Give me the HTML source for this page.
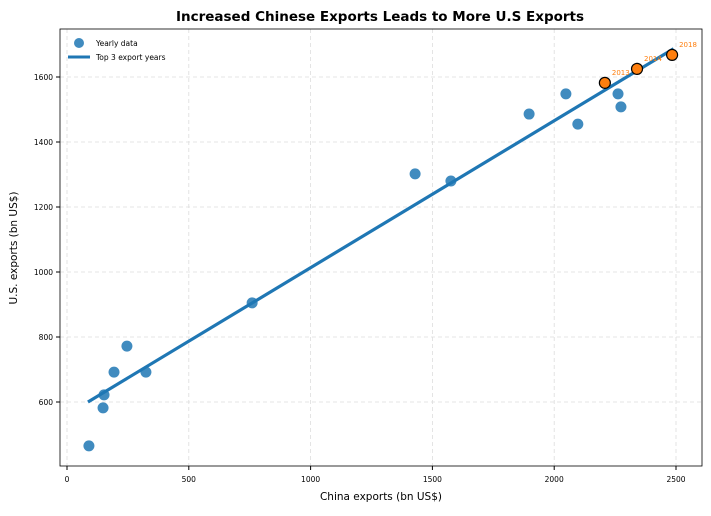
<!DOCTYPE html>
<html><head><meta charset="utf-8"><style>
body{margin:0;background:#fff;}
svg{font-family:"DejaVu Sans",sans-serif;}
</style></head><body>
<svg id="chart" width="711" height="511" xmlns="http://www.w3.org/2000/svg">
<rect width="711" height="511" fill="#fff"/>
<text x="380" y="21" text-anchor="middle" font-size="13.5" font-weight="bold">Increased Chinese Exports Leads to More U.S Exports</text>
<g id="grid"></g>
<g id="axes"></g>
<g id="marks"></g>
<rect x="60" y="29" width="642" height="437" fill="none" stroke="#000" stroke-width="0.8"/>
<text x="381" y="500" text-anchor="middle" font-size="10.5">China exports (bn US$)</text>
<text x="17" y="248" text-anchor="middle" font-size="10.5" transform="rotate(-90 17 248)">U.S. exports (bn US$)</text>
<g>
<circle cx="79" cy="43" r="5" fill="#1f77b4" fill-opacity="0.85"/>
<text x="96" y="46" font-size="7.5">Yearly data</text>
<line x1="68" y1="57" x2="90" y2="57" stroke="#1f77b4" stroke-width="3"/>
<text x="96" y="60" font-size="7.5">Top 3 export years</text>
</g>
</svg>
<script>
const chinaX=[90,148,152,193,246,324,760,1429,1576,1897,2048,2097,2262,2274];
const usY=[465,582,622,692,772,692,905,1302,1280,1486,1548,1455,1548,1508];
const topYears=["2013","2014","2018"];
const topX=[2208,2340,2484];
const topY=[1582,1625,1668];
const lineX=[86,2490];
const lineY=[600,1687];
const xTicks=[0,500,1000,1500,2000,2500];
const yTicks=[600,800,1000,1200,1400,1600];
const NS="http://www.w3.org/2000/svg";
const sx=v=>67+v*0.2436;
const sy=v=>402-(v-600)*0.325;
function mk(t,a,p){const e=document.createElementNS(NS,t);for(const k in a)e.setAttribute(k,a[k]);p.appendChild(e);return e;}
const grid=document.getElementById('grid'),axes=document.getElementById('axes'),marks=document.getElementById('marks');
xTicks.forEach(v=>{const x=sx(v);
let g=mk('line',{x1:x,x2:x,y1:29,y2:466,stroke:'#ddd','stroke-dasharray':'4,3','stroke-width':0.8},grid);

let t=mk('line',{x1:x,x2:x,y1:466,y2:470,stroke:'#000'},axes);

let l=mk('text',{x:x,y:482,'text-anchor':'middle','font-size':7.5},axes);l.textContent=v;
});
yTicks.forEach(v=>{const y=sy(v);
let g=mk('line',{x1:60,x2:702,y1:y,y2:y,stroke:'#ddd','stroke-dasharray':'4,3','stroke-width':0.8},grid);

let t=mk('line',{x1:56,x2:60,y1:y,y2:y,stroke:'#000'},axes);

let l=mk('text',{x:53,y:y+3,'text-anchor':'end','font-size':7.5},axes);l.textContent=v;
});
let ln=mk('line',{x1:sx(lineX[0]),y1:sy(lineY[0]),x2:sx(lineX[1]),y2:sy(lineY[1]),stroke:'#1f77b4','stroke-width':3.2},marks);

chinaX.forEach((v,i)=>{let c=mk('circle',{cx:sx(v),cy:sy(usY[i]),r:5.5,fill:'#1f77b4','fill-opacity':0.85},marks);
});
topX.forEach((v,i)=>{let c=mk('circle',{cx:sx(v),cy:sy(topY[i]),r:5.5,fill:'#ff7f0e',stroke:'#000','stroke-width':1.2},marks);

let t=mk('text',{x:sx(v)+7,y:sy(topY[i])-8,'font-size':7,fill:'#ff7f0e'},marks);t.textContent=topYears[i];
});
</script>
</body></html>
